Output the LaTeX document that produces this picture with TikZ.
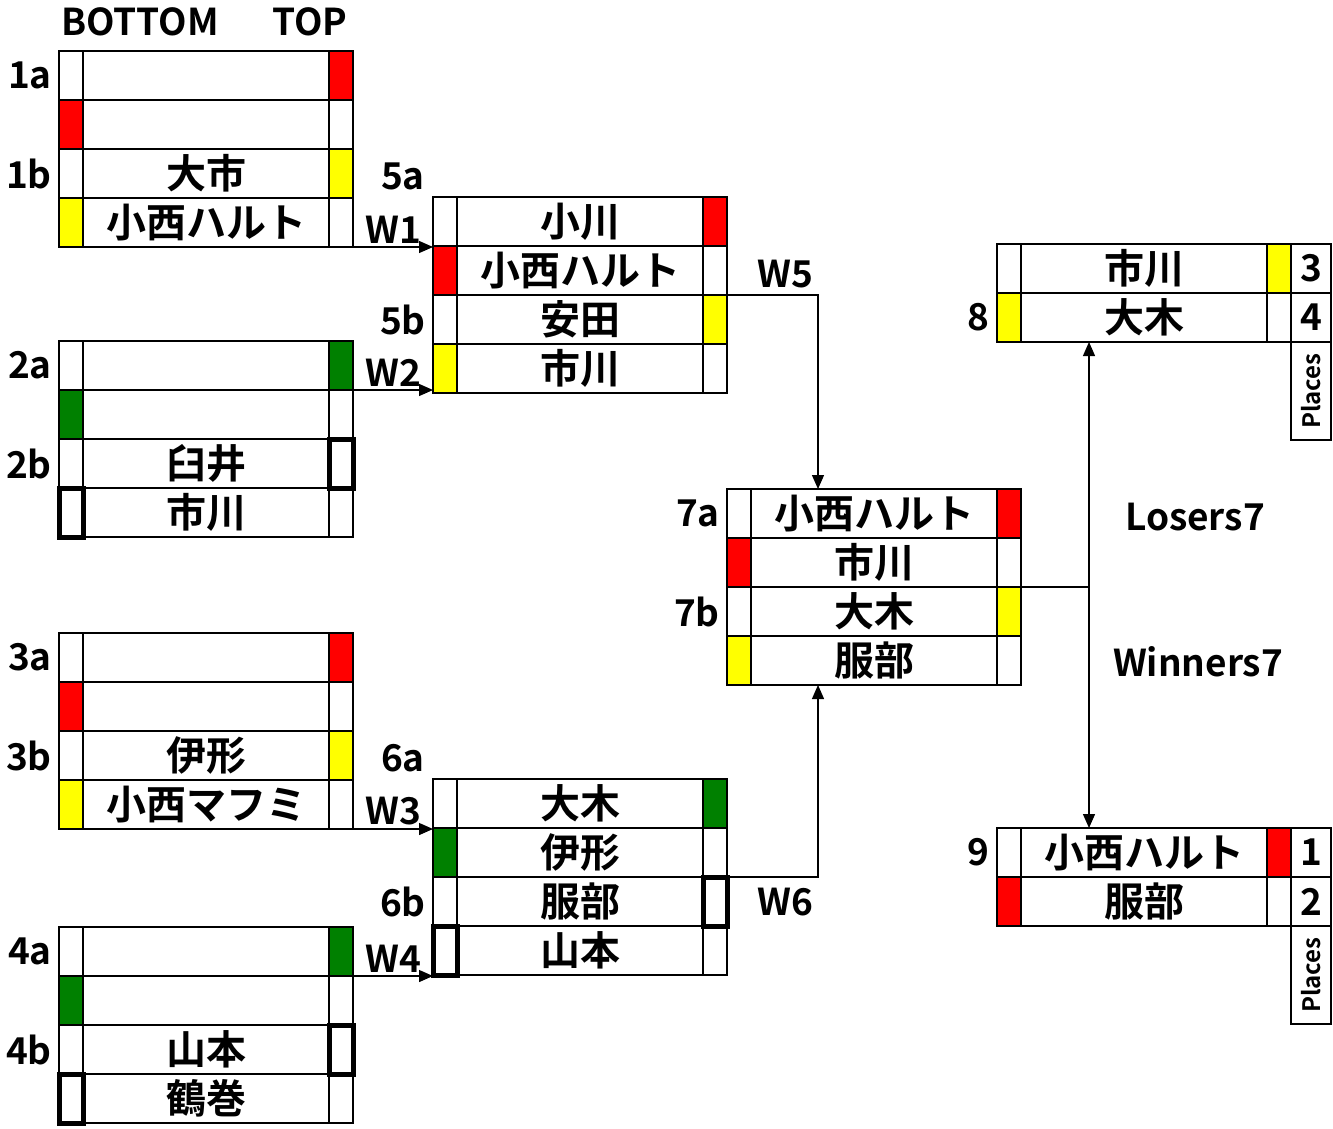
\documentclass[tikz,border=0pt]{standalone}
\usepackage{fontspec}
\setmainfont{Noto Sans CJK JP}[BoldFont={Noto Sans CJK JP Bold}]
\usepackage{xcolor}
\usepackage{tikz}
\usetikzlibrary{positioning,arrows.meta}
\definecolor{markRed}{RGB}{255,0,0}
\definecolor{markYellow}{RGB}{255,255,0}
\definecolor{markGreen}{RGB}{0,128,0}

\begin{document}
\begin{tikzpicture}[
	x=1pt,
	y=-1pt,
	node distance=0pt,
	font=\bfseries\fontsize{37}{40}\selectfont,
	name_cell/.style={
		rectangle,
		draw,
		line width=2.5pt,
		inner sep=0pt,
		outer sep=0pt,
		minimum width=246pt,
		minimum height=49pt,
		font=\bfseries\fontsize{40}{42}\selectfont
	},
	side_cell/.style={
		rectangle,
		draw,
		line width=2.5pt,
		inner sep=0pt,
		outer sep=0pt,
		minimum width=24pt,
		minimum height=49pt
	},
	open_cell/.style={
		side_cell,
		line width=5pt
	},
	place_cell/.style={
		side_cell,
		minimum width=40pt
	},
	tag/.style={
		inner sep=0pt
	},
	link/.style={
		line width=1.3pt,
		-{Triangle[length=14pt,width=12pt]}
	}
	]
	\useasboundingbox (0,0) rectangle (1333,1128);
	
	\node (bottom) [tag] at (140,22) {BOTTOM};
	\node (top) [tag] at (310,22) {TOP};
	
	% first round, match 1
	\node (r11) [name_cell] at (206,75.5) {};
	\node (r11L) [side_cell, left=of r11] {};
	\node (r11R) [side_cell, right=of r11, fill=markRed] {};
	\node (r12) [name_cell, below=of r11] {};
	\node (r12L) [side_cell, left=of r12, fill=markRed] {};
	\node (r12R) [side_cell, right=of r12] {};
	\node (r13) [name_cell, below=of r12] {大市};
	\node (r13L) [side_cell, left=of r13] {};
	\node (r13R) [side_cell, right=of r13, fill=markYellow] {};
	\node (r14) [name_cell, below=of r13] {小西ハルト};
	\node (r14L) [side_cell, left=of r14, fill=markYellow] {};
	\node (r14R) [side_cell, right=of r14] {};
	\node (t1a) [tag, left=7pt of r11L] {1a};
	\node (t1b) [tag, left=7pt of r13L] {1b};
	
	% first round, match 2
	\node (r21) [name_cell] at (206,365.5) {};
	\node (r21L) [side_cell, left=of r21] {};
	\node (r21R) [side_cell, right=of r21, fill=markGreen] {};
	\node (r22) [name_cell, below=of r21] {};
	\node (r22L) [side_cell, left=of r22, fill=markGreen] {};
	\node (r22R) [side_cell, right=of r22] {};
	\node (r23) [name_cell, below=of r22] {臼井};
	\node (r23L) [side_cell, left=of r23] {};
	\node (r23R) [open_cell, right=of r23] {};
	\node (r24) [name_cell, below=of r23] {市川};
	\node (r24L) [open_cell, left=of r24] {};
	\node (r24R) [side_cell, right=of r24] {};
	\node (t2a) [tag, left=7pt of r21L] {2a};
	\node (t2b) [tag, left=7pt of r23L] {2b};
	
	% first round, match 3
	\node (r31) [name_cell] at (206,657.5) {};
	\node (r31L) [side_cell, left=of r31] {};
	\node (r31R) [side_cell, right=of r31, fill=markRed] {};
	\node (r32) [name_cell, below=of r31] {};
	\node (r32L) [side_cell, left=of r32, fill=markRed] {};
	\node (r32R) [side_cell, right=of r32] {};
	\node (r33) [name_cell, below=of r32] {伊形};
	\node (r33L) [side_cell, left=of r33] {};
	\node (r33R) [side_cell, right=of r33, fill=markYellow] {};
	\node (r34) [name_cell, below=of r33] {小西マフミ};
	\node (r34L) [side_cell, left=of r34, fill=markYellow] {};
	\node (r34R) [side_cell, right=of r34] {};
	\node (t3a) [tag, left=7pt of r31L] {3a};
	\node (t3b) [tag, left=7pt of r33L] {3b};
	
	% first round, match 4
	\node (r41) [name_cell] at (206,951.5) {};
	\node (r41L) [side_cell, left=of r41] {};
	\node (r41R) [side_cell, right=of r41, fill=markGreen] {};
	\node (r42) [name_cell, below=of r41] {};
	\node (r42L) [side_cell, left=of r42, fill=markGreen] {};
	\node (r42R) [side_cell, right=of r42] {};
	\node (r43) [name_cell, below=of r42] {山本};
	\node (r43L) [side_cell, left=of r43] {};
	\node (r43R) [open_cell, right=of r43] {};
	\node (r44) [name_cell, below=of r43] {鶴巻};
	\node (r44L) [open_cell, left=of r44] {};
	\node (r44R) [side_cell, right=of r44] {};
	\node (t4a) [tag, left=7pt of r41L] {4a};
	\node (t4b) [tag, left=7pt of r43L] {4b};
	
	% second round, match 5
	\node (r51) [name_cell] at (580,221.5) {小川};
	\node (r51L) [side_cell, left=of r51] {};
	\node (r51R) [side_cell, right=of r51, fill=markRed] {};
	\node (r52) [name_cell, below=of r51] {小西ハルト};
	\node (r52L) [side_cell, left=of r52, fill=markRed] {};
	\node (r52R) [side_cell, right=of r52] {};
	\node (r53) [name_cell, below=of r52] {安田};
	\node (r53L) [side_cell, left=of r53] {};
	\node (r53R) [side_cell, right=of r53, fill=markYellow] {};
	\node (r54) [name_cell, below=of r53] {市川};
	\node (r54L) [side_cell, left=of r54, fill=markYellow] {};
	\node (r54R) [side_cell, right=of r54] {};
	\node (t5a) [tag, above left=7pt and 8pt of r51L.north west] {5a};
	\node (t5b) [tag, left=7pt of r53L] {5b};
	
	% second round, match 6
	\node (r61) [name_cell] at (580,803.5) {大木};
	\node (r61L) [side_cell, left=of r61] {};
	\node (r61R) [side_cell, right=of r61, fill=markGreen] {};
	\node (r62) [name_cell, below=of r61] {伊形};
	\node (r62L) [side_cell, left=of r62, fill=markGreen] {};
	\node (r62R) [side_cell, right=of r62] {};
	\node (r63) [name_cell, below=of r62] {服部};
	\node (r63L) [side_cell, left=of r63] {};
	\node (r63R) [open_cell, right=of r63] {};
	\node (r64) [name_cell, below=of r63] {山本};
	\node (r64L) [open_cell, left=of r64] {};
	\node (r64R) [side_cell, right=of r64] {};
	\node (t6a) [tag, above left=7pt and 8pt of r61L.north west] {6a};
	\node (t6b) [tag, left=7pt of r63L] {6b};
	
	% semifinal, match 7
	\node (r71) [name_cell] at (874,513.5) {小西ハルト};
	\node (r71L) [side_cell, left=of r71] {};
	\node (r71R) [side_cell, right=of r71, fill=markRed] {};
	\node (r72) [name_cell, below=of r71] {市川};
	\node (r72L) [side_cell, left=of r72, fill=markRed] {};
	\node (r72R) [side_cell, right=of r72] {};
	\node (r73) [name_cell, below=of r72] {大木};
	\node (r73L) [side_cell, left=of r73] {};
	\node (r73R) [side_cell, right=of r73, fill=markYellow] {};
	\node (r74) [name_cell, below=of r73] {服部};
	\node (r74L) [side_cell, left=of r74, fill=markYellow] {};
	\node (r74R) [side_cell, right=of r74] {};
	\node (t7a) [tag, left=7pt of r71L] {7a};
	\node (t7b) [tag, left=7pt of r73L] {7b};
	
	% match 8, places 3 and 4
	\node (r81) [name_cell] at (1144,268.5) {市川};
	\node (r81L) [side_cell, left=of r81] {};
	\node (r81R) [side_cell, right=of r81, fill=markYellow] {};
	\node (r82) [name_cell, below=of r81] {大木};
	\node (r82L) [side_cell, left=of r82, fill=markYellow] {};
	\node (r82R) [side_cell, right=of r82] {};
	\node (p81) [place_cell, right=of r81R] {3};
	\node (p82) [place_cell, right=of r82R] {4};
	\node (p83) [place_cell, below=of p82, minimum height=98pt, font=\bfseries\fontsize{24}{26}\selectfont] {\rotatebox{90}{Places}};
	\node (t8) [tag, left=7pt of r82L] {8};
	
	% match 9, places 1 and 2
	\node (r91) [name_cell] at (1144,852.5) {小西ハルト};
	\node (r91L) [side_cell, left=of r91] {};
	\node (r91R) [side_cell, right=of r91, fill=markRed] {};
	\node (r92) [name_cell, below=of r91] {服部};
	\node (r92L) [side_cell, left=of r92, fill=markRed] {};
	\node (r92R) [side_cell, right=of r92] {};
	\node (p91) [place_cell, right=of r91R] {1};
	\node (p92) [place_cell, right=of r92R] {2};
	\node (p93) [place_cell, below=of p92, minimum height=98pt, font=\bfseries\fontsize{24}{26}\selectfont] {\rotatebox{90}{Places}};
	\node (t9) [tag, left=7pt of r91L] {9};
	
	% winners of the first round
	\draw[link] (r14R.south east) -- node[tag, above=3pt]{W1} (r14R.south east -| r51L.west);
	\draw[link] (r21R.south east) -- node[tag, above=3pt]{W2} (r21R.south east -| r54L.west);
	\draw[link] (r34R.south east) -- node[tag, above=3pt]{W3} (r34R.south east -| r61L.west);
	\draw[link] (r41R.south east) -- node[tag, above=3pt]{W4} (r41R.south east -| r64L.west);
	
	% winners of the second round
	\coordinate (join7) at (818,600);
	\draw[link] (r52R.south east) -- node[tag, above=6pt, pos=0.64]{W5} (r52R.south east -| join7) -- (join7 |- r71.north);
	\draw[link] (r62R.south east) -- node[tag, below=10pt, pos=0.64]{W6} (r62R.south east -| join7) -- (join7 |- r74.south);
	
	% losers and winners of match 7
	\coordinate (split7) at (1089,600);
	\draw[line width=1.3pt] (r72R.south east) -- (r72R.south east -| split7);
	\draw[line width=1.3pt, {Triangle[length=14pt,width=12pt]}-{Triangle[length=14pt,width=12pt]}] (split7 |- r82.south) -- (split7 |- r91.north);
	\node (losers) [tag] at (1195,517) {Losers7};
	\node (winners) [tag] at (1198,662) {Winners7};
	
\end{tikzpicture}
\end{document}
